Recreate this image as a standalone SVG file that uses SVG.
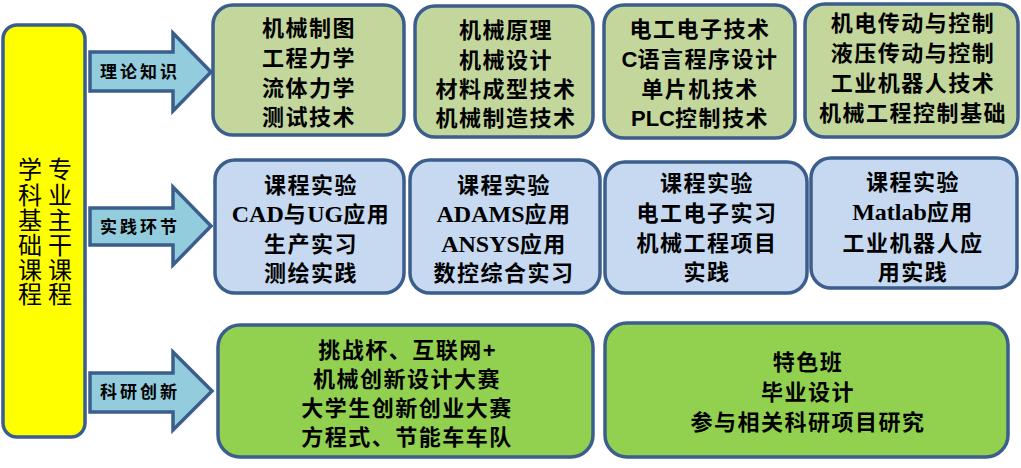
<svg xmlns="http://www.w3.org/2000/svg" width="1021" height="468" viewBox="0 0 1021 468">
<style>
.bx{stroke:#3B5E8C;stroke-width:3.5}
.g1{fill:#C3D69B}
.g2{fill:#C6D9F1}
.g3{fill:#92D050}
.t{font-family:"Noto Sans CJK SC","Noto Sans CJK TC",sans-serif;font-size:22px;font-weight:bold;text-anchor:middle;fill:#000;letter-spacing:1.5px}
.lat{font-family:"Liberation Serif",serif;font-size:24px;font-weight:bold;letter-spacing:0}
.sans{font-family:"Liberation Sans",sans-serif;font-size:22px;font-weight:bold;letter-spacing:0}
.arr{fill:#93CDDD;stroke:#3B5E8C;stroke-width:3.5;stroke-linejoin:miter}
.al{font-family:"Noto Sans CJK SC",sans-serif;font-size:17px;font-weight:bold;fill:#000;letter-spacing:3px}
.yt{font-family:"Noto Sans CJK SC",sans-serif;font-size:24px;text-anchor:middle;fill:#000}
</style>
<rect width="1021" height="468" fill="#FFFFFF"/>
<g id="main">
<rect x="3" y="25" width="82" height="412" rx="14" fill="#FFFF00" class="bx"/>
<text class="yt" x="30 30 30 30 30 30" y="178 204 229 254 279 303">学科基础课程</text>
<text class="yt" x="60 60 60 60 60 60" y="178 204 229 254 279 303">专业主干课程</text>
</g>
<g id="connectors">
<g id="arrow-theory">
<path class="arr" d="M90,52 H173 V33 L211,72 L173,111 V91 H90 Z"/>
<text class="al" x="100" y="78">理论知识</text>
</g>
<g id="arrow-practice">
<path class="arr" d="M90,208 H173 V187 L211,226 L173,265 V245 H90 Z"/>
<text class="al" x="100" y="233">实践环节</text>
</g>
<g id="arrow-research">
<path class="arr" d="M90,373 H173 V352 L212,391 L173,430 V412 H90 Z"/>
<text class="al" x="100" y="398">科研创新</text>
</g>
</g>
<g id="theory-1">
<rect x="213" y="5" width="191" height="130" rx="20" class="bx g1"/>
<text class="t" x="309" y="36">机械制图</text>
<text class="t" x="309" y="66">工程力学</text>
<text class="t" x="309" y="96">流体力学</text>
<text class="t" x="309" y="125">测试技术</text>
</g>
<g id="theory-2">
<rect x="415" y="6" width="178" height="131" rx="20" class="bx g1"/>
<text class="t" x="506" y="38">机械原理</text>
<text class="t" x="506" y="68">机械设计</text>
<text class="t" x="506" y="97">材料成型技术</text>
<text class="t" x="506" y="126">机械制造技术</text>
</g>
<g id="theory-3">
<rect x="604" y="5" width="191" height="133" rx="20" class="bx g1"/>
<text class="t" x="700" y="37">电工电子技术</text>
<text class="t" x="700" y="67"><tspan class="sans">C</tspan>语言程序设计</text>
<text class="t" x="700" y="97">单片机技术</text>
<text class="t" x="700" y="126"><tspan class="sans">PLC</tspan>控制技术</text>
</g>
<g id="theory-4">
<rect x="805" y="4" width="213" height="133" rx="20" class="bx g1"/>
<text class="t" x="913" y="31">机电传动与控制</text>
<text class="t" x="913" y="61">液压传动与控制</text>
<text class="t" x="913" y="91">工业机器人技术</text>
<text class="t" x="913" y="121">机械工程控制基础</text>
</g>
<g id="practice-1">
<rect x="215" y="160" width="189" height="133" rx="20" class="bx g2"/>
<text class="t" x="311" y="193">课程实验</text>
<text class="t" x="311" y="222" letter-spacing="0"><tspan class="lat" font-size="22" letter-spacing="-1">CAD</tspan>与<tspan class="lat" font-size="22" letter-spacing="-1">UG</tspan>应用</text>
<text class="t" x="311" y="252">生产实习</text>
<text class="t" x="311" y="281">测绘实践</text>
</g>
<g id="practice-2">
<rect x="410" y="160" width="190" height="133" rx="20" class="bx g2"/>
<text class="t" x="504" y="193">课程实验</text>
<text class="t" x="504" y="222"><tspan class="lat">ADAMS</tspan>应用</text>
<text class="t" x="504" y="252"><tspan class="lat">ANSYS</tspan>应用</text>
<text class="t" x="504" y="281">数控综合实习</text>
</g>
<g id="practice-3">
<rect x="605" y="162" width="202" height="131" rx="20" class="bx g2"/>
<text class="t" x="707" y="191">课程实验</text>
<text class="t" x="707" y="221">电工电子实习</text>
<text class="t" x="707" y="251">机械工程项目</text>
<text class="t" x="707" y="280">实践</text>
</g>
<g id="practice-4">
<rect x="811" y="158" width="206" height="130" rx="20" class="bx g2"/>
<text class="t" x="913" y="190">课程实验</text>
<text class="t" x="913" y="220"><tspan class="lat">Matlab</tspan>应用</text>
<text class="t" x="913" y="251">工业机器人应</text>
<text class="t" x="913" y="280">用实践</text>
</g>
<g id="research-1">
<rect x="218" y="325" width="375" height="132" rx="22" class="bx g3"/>
<text class="t" x="407" y="358">挑战杯、互联网<tspan class="sans">+</tspan></text>
<text class="t" x="407" y="387">机械创新设计大赛</text>
<text class="t" x="407" y="416">大学生创新创业大赛</text>
<text class="t" x="407" y="445">方程式、节能车车队</text>
</g>
<g id="research-2">
<rect x="605" y="323" width="403" height="134" rx="22" class="bx g3"/>
<text class="t" x="808" y="370">特色班</text>
<text class="t" x="808" y="400">毕业设计</text>
<text class="t" x="808" y="430">参与相关科研项目研究</text>
</g>
</svg>
